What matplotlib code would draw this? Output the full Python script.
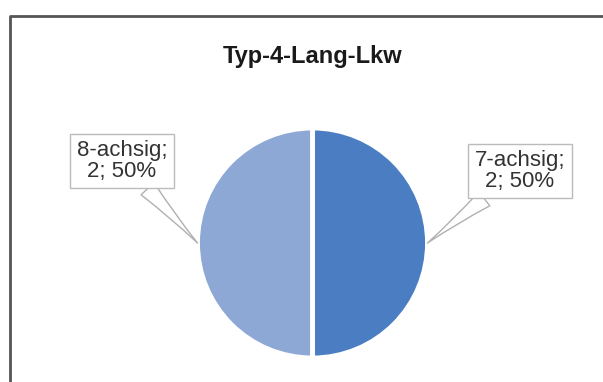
import matplotlib
matplotlib.use("Agg")
import matplotlib.pyplot as plt
import numpy as np

# chart data
title = "Typ-4-Lang-Lkw"
categories = ["7-achsig", "8-achsig"]
counts = [2, 2]
colors = ["#4a7dc2", "#8ea8d6"]

W, H = 603, 382
fig = plt.figure(figsize=(W / 100, H / 100), dpi=100)
ax = fig.add_axes([0, 0, 1, 1])
ax.set_xlim(0, W)
ax.set_ylim(0, H)
ax.set_aspect("equal")
ax.axis("off")

plt.rcParams["font.family"] = ["Liberation Sans", "DejaVu Sans"]

# frame of the chart area (left and top edges visible)
ax.plot([9.5, 9.5, W], [0, H - 15.5, H - 15.5], color="#555555", lw=2, solid_capstyle="butt")

cx, cy, r = 312.5, H - 243, 115
wedges, _ = ax.pie(counts, colors=colors, startangle=90, counterclock=False,
                   center=(cx, cy), radius=r,
                   wedgeprops=dict(edgecolor="white", linewidth=3.5))
ax.set_xlim(0, W)
ax.set_ylim(0, H)

ax.text(cx, H - 57, title, ha="center", va="center", fontsize=17, fontweight="bold",
        color="#1a1a1a")

total = sum(counts)
# label box centres; leaders point at the middle of each wedge
label_pos = [(520, H - 171), (122, H - 161)]
for w, name, n, (tx, ty) in zip(wedges, categories, counts, label_pos):
    a = np.deg2rad((w.theta1 + w.theta2) / 2)
    px, py = cx + r * np.cos(a), cy + r * np.sin(a)
    ax.annotate(f"{name};\n{n}; {n / total:.0%}", xy=(px, py), xytext=(tx, ty),
                ha="center", va="center", fontsize=16, color="#333333",
                linespacing=0.95,
                bbox=dict(boxstyle="square,pad=0.3", fc="white", ec="#bbbbbb", lw=1),
                arrowprops=dict(arrowstyle="wedge,tail_width=0.8,shrink_factor=0.4",
                                fc="white", ec="#b0b0b0", lw=1, shrinkA=0, shrinkB=0))

fig.savefig("out.png", dpi=100)
